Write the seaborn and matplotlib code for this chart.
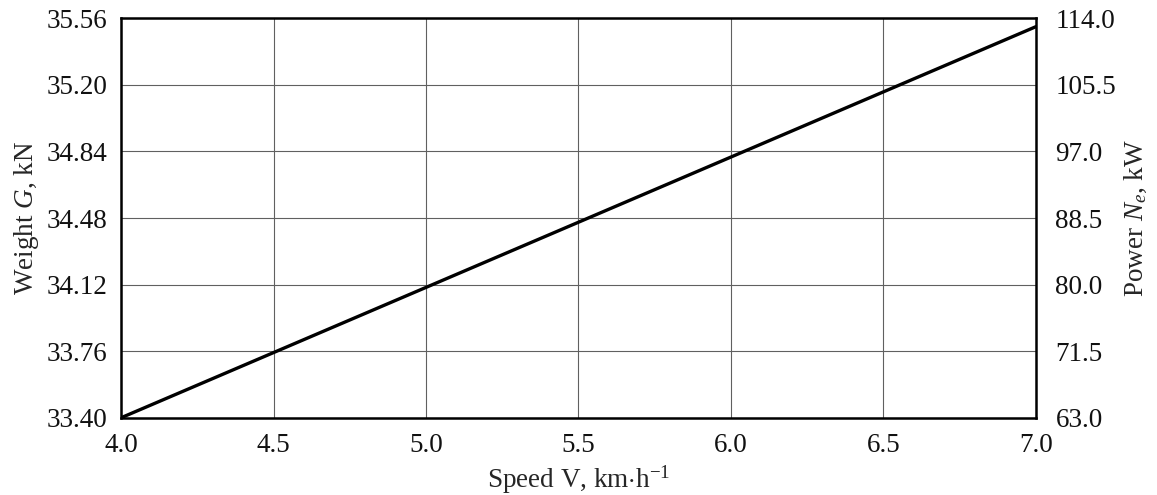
import numpy as np
import pandas as pd
import matplotlib
matplotlib.use("Agg")
import matplotlib.pyplot as plt
import seaborn as sns

# values
speed = [4.0, 5.0, 6.0, 7.0]
weight = [33.40, 34.105, 34.81, 35.515]

x_ticks = [4.0, 4.5, 5.0, 5.5, 6.0, 6.5, 7.0]
weight_ticks = [33.40, 33.76, 34.12, 34.48, 34.84, 35.20, 35.56]
power_ticks = [63.0, 71.5, 80.0, 88.5, 97.0, 105.5, 114.0]


def main():
    sns.set_style("white")
    plt.rcParams["font.family"] = ["Liberation Serif", "DejaVu Serif"]
    plt.rcParams["mathtext.fontset"] = "custom"
    plt.rcParams["mathtext.rm"] = "Liberation Serif"
    plt.rcParams["mathtext.it"] = "Liberation Serif:italic"
    plt.rcParams["font.size"] = 19.5

    df = pd.DataFrame({"speed": speed, "weight": weight})

    fig, ax = plt.subplots(figsize=(11.57, 4.95), dpi=100)
    fig.subplots_adjust(left=0.1046, right=0.8954, top=0.963, bottom=0.156)

    sns.lineplot(data=df, x="speed", y="weight", ax=ax, color="black", linewidth=2.4, zorder=3)

    ax.set_xlim(4.0, 7.0)
    ax.set_ylim(33.40, 35.56)
    ax.set_xticks(x_ticks)
    ax.set_xticklabels([f"{v:.1f}" for v in x_ticks])
    ax.set_yticks(weight_ticks)
    ax.set_yticklabels([f"{v:.2f}" for v in weight_ticks])
    ax.grid(True, color="#606060", linewidth=0.8)
    ax.tick_params(axis="both", length=0, labelsize=19.5, colors="#111111")
    ax.tick_params(axis="x", pad=11)
    ax.tick_params(axis="y", pad=10)
    for s in ax.spines.values():
        s.set_color("black")
        s.set_linewidth(1.8)

    ax.set_xlabel(r"Speed V, km$\cdot$h$^{-1}$", fontsize=19.5, labelpad=4)
    ax.set_ylabel(r"Weight $G$, kN", fontsize=19.5, labelpad=4)

    ax2 = ax.twinx()
    ax2.set_ylim(power_ticks[0], power_ticks[-1])
    ax2.set_yticks(power_ticks)
    ax2.set_yticklabels([f"{v:.1f}" for v in power_ticks])
    ax2.tick_params(axis="y", length=0, labelsize=19.5, pad=14, colors="#111111")
    for s in ax2.spines.values():
        s.set_visible(False)
    ax2.set_ylabel(r"Power $N_e$, kW", fontsize=19.5, labelpad=5)

    fig.savefig("out.png", dpi=100)


if __name__ == "__main__":
    main()
